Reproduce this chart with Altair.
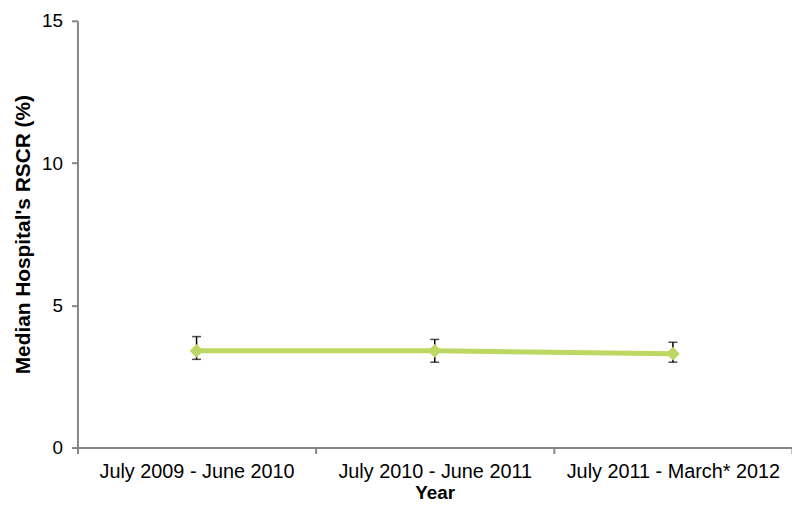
import altair as alt
import pandas as pd


years = ["July 2009 - June 2010", "July 2010 - June 2011", "July 2011 - March* 2012"]
median_rscr = [3.4, 3.4, 3.3]
rscr_low = [3.1, 3.0, 3.0]
rscr_high = [3.9, 3.8, 3.7]

df = pd.DataFrame({
    "Year": years,
    "RSCR": median_rscr,
    "Low": rscr_low,
    "High": rscr_high,
})

FONT = "Liberation Sans"
AXIS_GREY = "#868686"
GREEN = "#BDD762"

x_enc = alt.X(
    "Year:N",
    sort=years,
    bandPosition=0.5,
    scale=alt.Scale(type="band", paddingInner=0, paddingOuter=0),
    axis=alt.Axis(
        title="Year",
        labelAngle=0,
        labelFontSize=20,
        labelColor="#000000",
        labelPadding=8,
        labelLimit=400,
        tickBand="extent",
        tickSize=6,
        tickColor=AXIS_GREY,
        tickWidth=2,
        domainColor=AXIS_GREY,
        domainWidth=2,
        titleFontSize=19,
        titleFontWeight="bold",
        titlePadding=2,
        grid=False,
    ),
)

y_scale = alt.Scale(domain=[0, 15], nice=False)
y_axis = alt.Axis(
    title="Median Hospital's RSCR (%)",
    values=[0, 5, 10, 15],
    labelFontSize=19,
    labelColor="#000000",
    labelPadding=9,
    tickSize=6,
    tickColor=AXIS_GREY,
    tickWidth=2,
    domainColor=AXIS_GREY,
    domainWidth=2,
    titleFontSize=21,
    titleFontWeight="bold",
    titlePadding=8,
    grid=False,
)

base = alt.Chart(df)

# error bars sit behind the line
err_rule = base.mark_rule(color="#000000", strokeWidth=1.5).encode(
    x=x_enc,
    y=alt.Y("Low:Q", scale=y_scale, axis=y_axis),
    y2="High:Q",
)

err_low = base.mark_tick(color="#000000", size=9, thickness=1.5).encode(
    x=x_enc,
    y=alt.Y("Low:Q", scale=y_scale),
)

err_high = base.mark_tick(color="#000000", size=9, thickness=1.5).encode(
    x=x_enc,
    y=alt.Y("High:Q", scale=y_scale),
)

line = base.mark_line(color=GREEN, strokeWidth=5).encode(
    x=x_enc,
    y=alt.Y("RSCR:Q", scale=y_scale),
)

points = base.mark_point(shape="diamond", filled=True, color=GREEN, size=190, opacity=1).encode(
    x=x_enc,
    y=alt.Y("RSCR:Q", scale=y_scale),
)

chart = alt.layer(
    err_rule, err_low, err_high, line, points
).properties(
    width=720,
    height=430,
    autosize=alt.AutoSizeParams(type="none"),
    padding={"left": 70, "top": 11, "right": 0, "bottom": 57},
).configure(
    font=FONT,
).configure_view(
    stroke=None,
)

chart.save("out.html", embed_options={"renderer": "svg", "actions": False})
